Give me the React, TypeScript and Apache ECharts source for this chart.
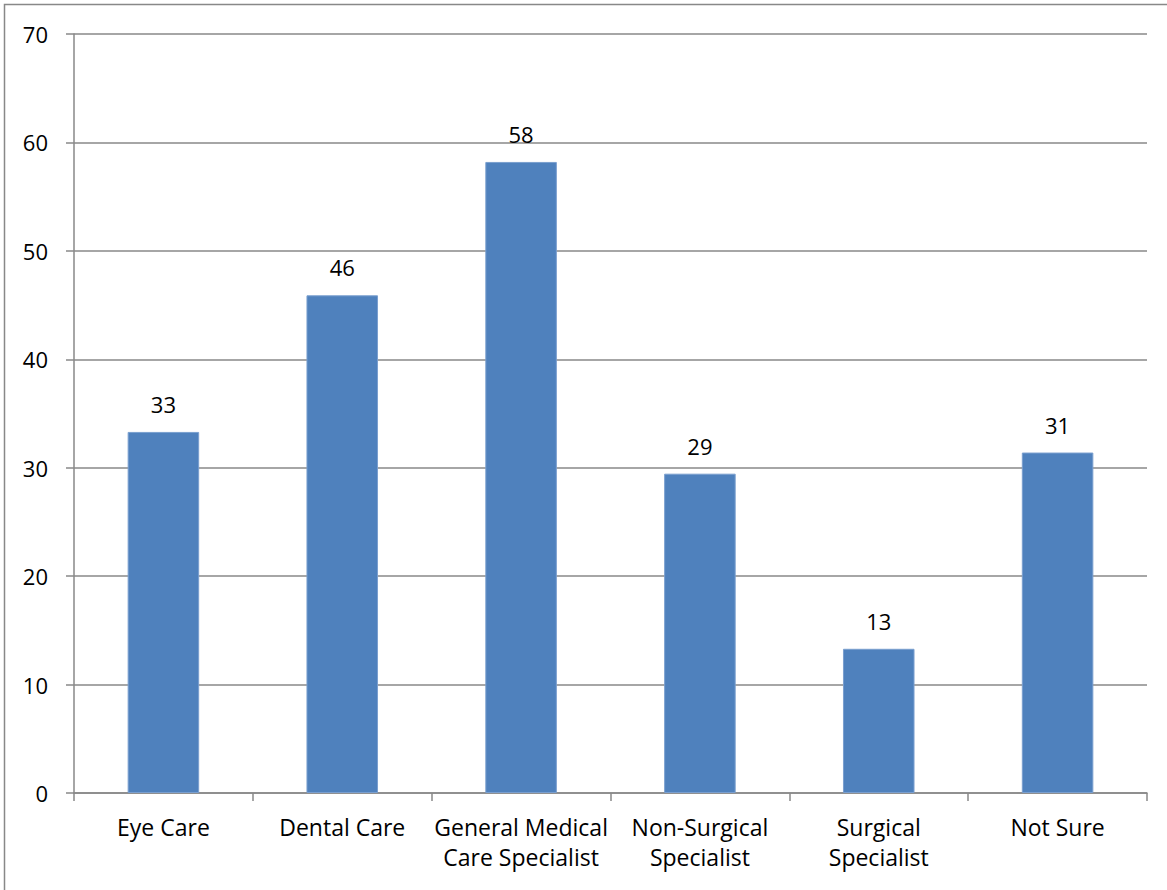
import React, { useEffect, useRef } from "react";
import * as echarts from "echarts";

const categories = [
  "Eye Care",
  "Dental Care",
  "General Medical\nCare Specialist",
  "Non-Surgical\nSpecialist",
  "Surgical\nSpecialist",
  "Not Sure",
];
const values = [33.3, 45.9, 58.2, 29.45, 13.3, 31.4];
const yTicks = { min: 0, max: 70, interval: 10 };

const FONT = "'Open Sans', sans-serif";

export default function App() {
  const ref = useRef<HTMLDivElement>(null);
  useEffect(() => {
    if (!ref.current) return;
    const chart = echarts.init(ref.current, undefined, { renderer: "svg" });
    chart.setOption({
      animation: false,
      backgroundColor: "#ffffff",
      grid: { left: 74, top: 34, right: 20, bottom: 97, containLabel: false },
      graphic: [
        {
          type: "rect",
          shape: { x: 4.5, y: 4.5, width: 1200, height: 1000 },
          style: { fill: "none", stroke: "#888888", lineWidth: 1.5 },
          silent: true,
        },
      ],
      xAxis: {
        type: "category",
        data: categories,
        axisLine: { show: true, lineStyle: { color: "#888888", width: 1.5 } },
        axisTick: { show: true, length: 8, lineStyle: { color: "#888888", width: 1.5 } },
        axisLabel: {
          color: "#000000",
          fontFamily: FONT,
          fontSize: 23,
          lineHeight: 30,
          margin: 19,
          interval: 0,
        },
      },
      yAxis: {
        type: "value",
        min: yTicks.min,
        max: yTicks.max,
        interval: yTicks.interval,
        axisLine: { show: true, lineStyle: { color: "#888888", width: 1.5 } },
        axisTick: { show: true, length: 8, lineStyle: { color: "#888888", width: 1.5 } },
        splitLine: { show: true, lineStyle: { color: "#888888", width: 1.5 } },
        axisLabel: {
          color: "#000000",
          fontFamily: FONT,
          fontSize: 22,
          margin: 26,
        },
      },
      series: [
        {
          type: "bar",
          data: values,
          barWidth: "40%",
          itemStyle: { color: "#4F81BD", borderColor: "#7A9FCF", borderWidth: 1 },
          label: {
            show: true,
            position: "top",
            distance: 17,
            color: "#000000",
            fontFamily: FONT,
            fontSize: 22,
            formatter: (p: any) => String(Math.round(p.value)),
          },
        },
      ],
    });
    return () => chart.dispose();
  }, []);
  return (
    <div
      ref={ref}
      style={{ position: "fixed", left: 0, top: 0, width: 1167, height: 890 }}
    />
  );
}
